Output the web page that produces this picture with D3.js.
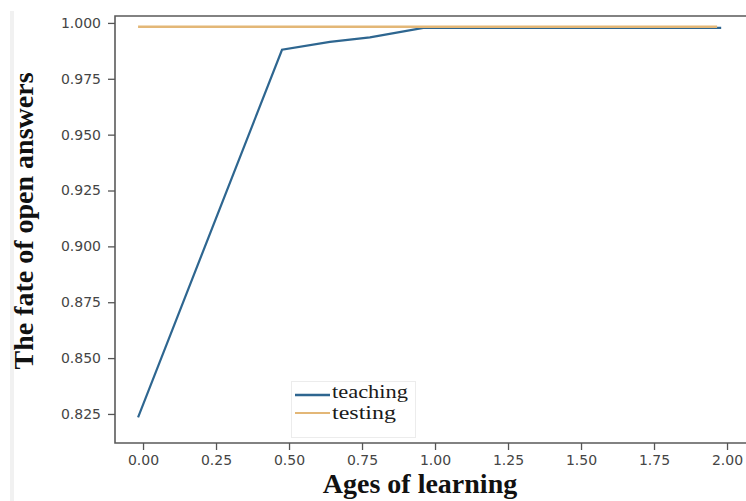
<!DOCTYPE html>
<html>
<head>
 <meta charset="UTF-8">
 <title>The fate of open answers</title>
 <script type="text/javascript" src="https://cdn.jsdelivr.net/npm/d3@7"></script>
 <style>
body {
  margin: 0;
  background: #fff;
}
svg {
  display: block;
}
.tick text {
  font-family: "DejaVu Sans", sans-serif;
  font-size: 14px;
  fill: #454545;
}
.tick line {
  stroke: #555;
  stroke-width: 1.3px;
}
.domain {
  display: none;
}
.spine {
  stroke: #5a5a5a;
  stroke-width: 1.6px;
  fill: none;
}
.label {
  font-family: "Liberation Serif", "Times New Roman", serif;
  font-weight: bold;
  font-size: 28px;
  fill: #111;
}
.legend text {
  font-family: "Liberation Serif", "Times New Roman", serif;
  font-size: 19px;
  fill: #1a1a1a;
}
 </style>
</head>
<body>
<svg width="746" height="501"></svg>
<script type="text/javascript">
// values
var series = ["teaching", "testing"];
var teachingX = [-0.017, 0.476, 0.64, 0.777, 0.96, 1.98];
var teachingY = [0.8235, 0.988, 0.9915, 0.9935, 0.9978, 0.9978];
var testingX = [-0.017, 1.966];
var testingY = [0.9983, 0.9983];
var xTicks = [0, 0.25, 0.5, 0.75, 1.0, 1.25, 1.5, 1.75, 2.0];
var yTicks = [0.825, 0.85, 0.875, 0.9, 0.925, 0.95, 0.975, 1.0];
var colors = {teaching: "#2e6690", testing: "#e3b777"};

var width = 746, height = 501,
  svg = d3.select("svg"),
  xscale = d3.scaleLinear()
    .domain([-0.096, 2.065])
    .range([115, 746]),
  yscale = d3.scaleLinear()
    .domain([0.812, 1.0031])
    .range([443, 16]);

// faint strip on the left edge of the scan
svg.append("rect")
  .attr("x", 10).attr("y", 11)
  .attr("width", 4).attr("height", height - 11)
  .attr("fill", "#f1f1f1");

var line = d3.line()
  .x(function(d){ return xscale(d[0]); })
  .y(function(d){ return yscale(d[1]); });

svg.append("path")
  .attr("d", line(d3.zip(teachingX, teachingY)))
  .attr("fill", "none")
  .attr("stroke", colors.teaching)
  .attr("stroke-width", 2.2);

svg.append("path")
  .attr("d", line(d3.zip(testingX, testingY)))
  .attr("fill", "none")
  .attr("stroke", colors.testing)
  .attr("stroke-width", 2.4);

// spines (right one is cut off by the picture edge)
svg.append("path")
  .attr("class", "spine")
  .attr("d", "M" + width + "," + yscale.range()[1] + "H" + xscale.range()[0] +
    "V" + yscale.range()[0] + "H" + width);

svg.append("g")
  .attr("transform", "translate(" + xscale.range()[0] + ",0)")
  .call(d3.axisLeft(yscale).tickValues(yTicks).tickSize(7).tickPadding(7)
    .tickFormat(d3.format(".3f")));

svg.append("g")
  .attr("transform", "translate(0," + yscale.range()[0] + ")")
  .call(d3.axisBottom(xscale).tickValues(xTicks).tickSize(7).tickPadding(5)
    .tickFormat(d3.format(".2f")));

svg.append("text")
  .attr("class", "label")
  .attr("x", 420).attr("y", 493)
  .attr("text-anchor", "middle")
  .text("Ages of learning");

svg.append("text")
  .attr("class", "label")
  .attr("transform", "translate(33,221) rotate(-90)")
  .attr("text-anchor", "middle")
  .text("The fate of open answers");

// legend
var legend = svg.append("g").attr("class", "legend");
legend.append("rect")
  .attr("x", 291.5).attr("y", 381.5)
  .attr("width", 124).attr("height", 56)
  .attr("fill", "#fff")
  .attr("stroke", "#ececec");
series.forEach(function(s, i){
  var y = 395 + i * 18;
  legend.append("line")
    .attr("x1", 295).attr("x2", 330)
    .attr("y1", y).attr("y2", y)
    .attr("stroke", colors[s])
    .attr("stroke-width", s == "teaching" ? 2.4 : 1.8);
  legend.append("text")
    .attr("x", 332).attr("y", 398 + i * 21)
    .attr("textLength", s == "teaching" ? 76 : 64)
    .attr("lengthAdjust", "spacingAndGlyphs")
    .text(s);
});
</script>
</body>
</html>
